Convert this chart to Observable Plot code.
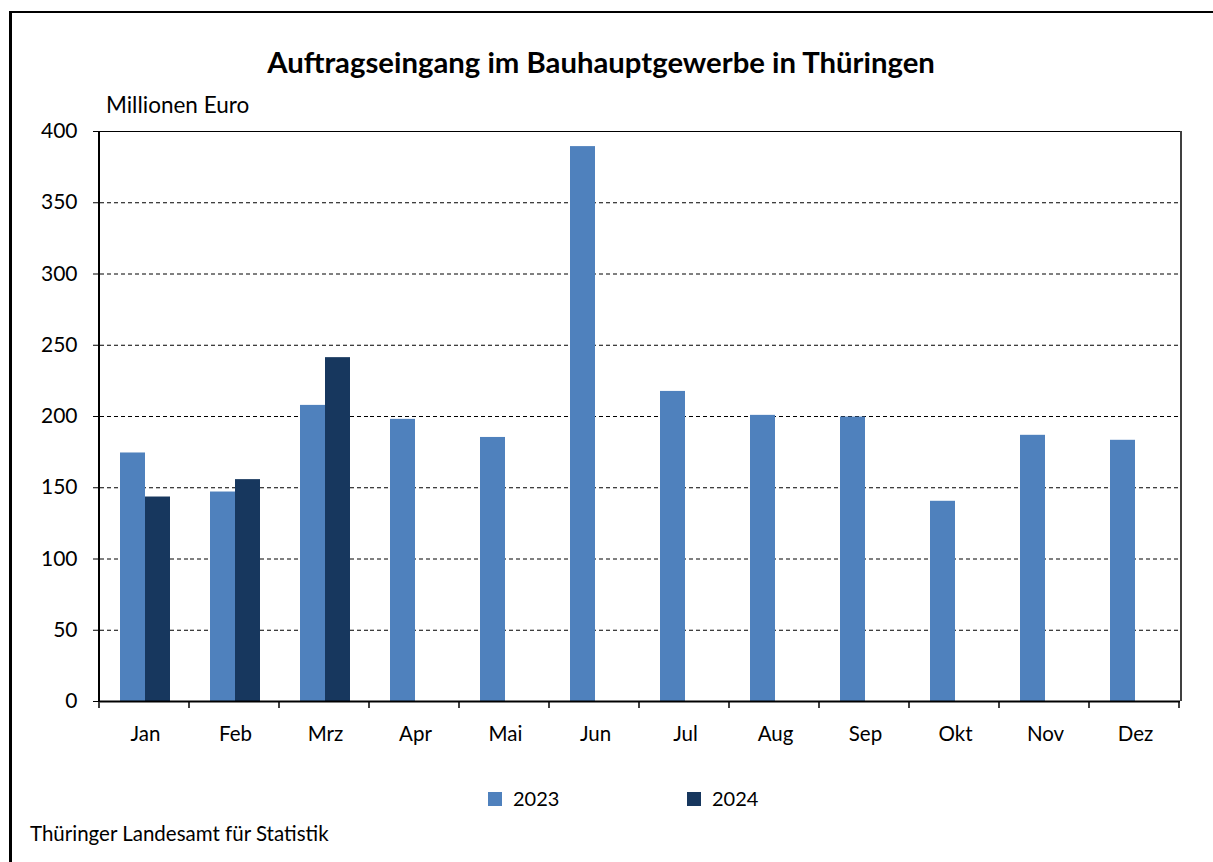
<!DOCTYPE html>
<html>
<head>
<meta charset="utf-8">
<script src="https://cdn.jsdelivr.net/npm/d3@7"></script>
<script src="https://cdn.jsdelivr.net/npm/@observablehq/plot@0.6"></script>
<style>
  body { margin: 0; background: #fff; }
  #wrap { position: relative; width: 1213px; height: 862px; overflow: hidden; font-family: Lato, "Noto Sans", sans-serif; color: #000; }
  #outer { position: absolute; left: 9px; top: 11px; width: 1400px; height: 1000px; border-left: 3px solid #000; border-top: 2px solid #000; box-sizing: border-box; }
  #chart { position: absolute; left: 0; top: 0; }
  .t { position: absolute; white-space: nowrap; }
  #title { left: 0; width: 1202px; text-align: center; top: 46px; font-size: 29.3px; line-height: 32px; font-weight: bold; }
  #ylabel { left: 106px; top: 93px; font-size: 22.5px; line-height: 24px; }
  #footer { left: 30px; top: 821px; font-size: 20.5px; line-height: 24px; }
  .sw { position: absolute; width: 14px; height: 14px; }
  .lt { position: absolute; font-size: 20px; line-height: 24px; top: 786px; }
</style>
</head>
<body>
<div id="wrap">
  <div id="outer"></div>
  <div id="chart"></div>
  <div class="t" id="title">Auftragseingang im Bauhauptgewerbe in Thüringen</div>
  <div class="t" id="ylabel">Millionen Euro</div>
  <div id="legend"></div>
  <div class="t" id="footer">Thüringer Landesamt für Statistik</div>
</div>
<script>
const months = ["Jan","Feb","Mrz","Apr","Mai","Jun","Jul","Aug","Sep","Okt","Nov","Dez"];
const years = ["2023","2024"];
const values2023 = [174.4,147.0,207.8,198.0,185.3,389.4,217.6,200.8,199.6,140.5,186.8,183.3];
const values2024 = [143.5,155.7,241.3];
const yTicks = [0,50,100,150,200,250,300,350,400];
const colors = ["#4f81bd","#17375e"];

const data = [];
values2023.forEach((v,i) => data.push({month: months[i], year: years[0], value: v}));
values2024.forEach((v,i) => data.push({month: months[i], year: years[1], value: v}));

const chart = Plot.plot({
  width: 1213, height: 760,
  marginLeft: 99, marginRight: 32, marginTop: 131, marginBottom: 59,
  style: {fontFamily: "Lato, 'Noto Sans', sans-serif", fontSize: "20px", color: "#000", background: "transparent", overflow: "visible"},
  fx: {domain: months, padding: 0, label: null, axis: null},
  x: {domain: years, paddingInner: 0, paddingOuter: 0.768, axis: null},
  y: {domain: [0,400], label: null},
  color: {domain: years, range: colors},
  marks: [
    Plot.gridY(yTicks.slice(1,-1), {stroke: "#000", strokeOpacity: 1, strokeDasharray: "4,3", strokeWidth: 1}),
    Plot.barY(data, {fx: "month", x: "year", y: "value", fill: "year"}),
    Plot.ruleY([400], {stroke: "#000", strokeWidth: 1}),
    Plot.ruleY([0], {stroke: "#000", strokeWidth: 2}),
    Plot.axisY(yTicks, {tickSize: 7, tickPadding: 16, fontSize: 21, label: null, stroke: "#000"}),
    Plot.axisFx({anchor: "bottom", tickSize: 0, tickPadding: 25, fontSize: 20.5, label: null})
  ]
});
document.getElementById("chart").appendChild(chart);

// frame lines and boundary ticks from the library's scales
const fx = chart.scale("fx");
const y = chart.scale("y");
const svg = d3.select(chart);
const x0 = fx.range[0], x1 = fx.range[1];
const yTop = y.apply(400), yBot = y.apply(0);
const g = svg.append("g").attr("stroke", "#000");
g.append("line").attr("x1", x0).attr("x2", x0).attr("y1", yTop).attr("y2", yBot).attr("stroke-width", 2);
g.append("line").attr("x1", x1).attr("x2", x1).attr("y1", yTop).attr("y2", yBot).attr("stroke-width", 1.5);
for (let i = 0; i <= months.length; i++) {
  const xx = x0 + i * fx.step;
  g.append("line").attr("x1", xx).attr("x2", xx).attr("y1", yBot).attr("y2", yBot + 7).attr("stroke-width", 1.5);
}

// legend
const legend = document.getElementById("legend");
const legendPos = [[488, 513], [687, 712]];
years.forEach((yr, i) => {
  const s = document.createElement("div");
  s.className = "sw"; s.style.left = legendPos[i][0] + "px"; s.style.top = "792px"; s.style.background = colors[i];
  legend.appendChild(s);
  const t = document.createElement("div");
  t.className = "lt"; t.style.left = legendPos[i][1] + "px"; t.textContent = yr;
  legend.appendChild(t);
});
</script>
</body>
</html>
